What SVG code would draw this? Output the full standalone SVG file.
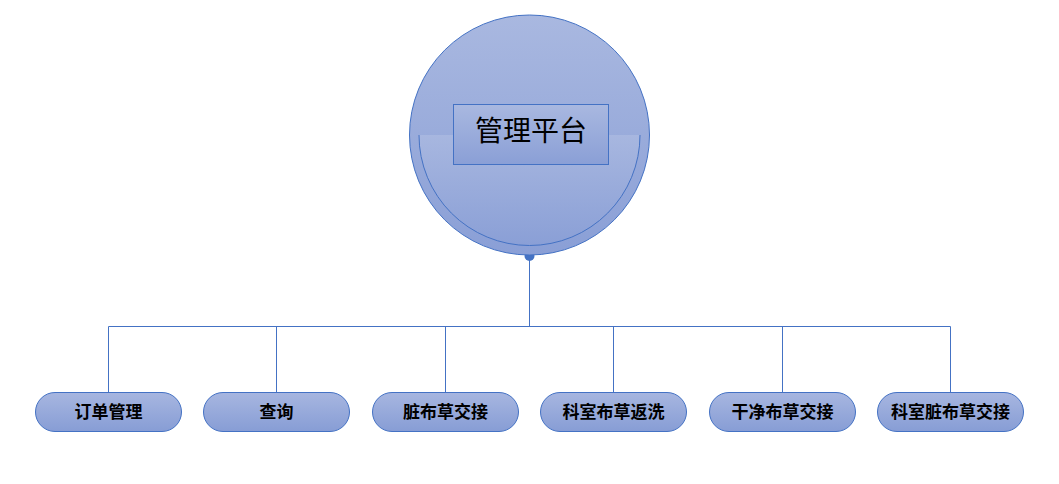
<svg xmlns="http://www.w3.org/2000/svg" width="1059" height="484" viewBox="0 0 1059 484">
<defs>
<linearGradient id="g" x1="0" y1="0" x2="0" y2="1"><stop offset="0" stop-color="#a9b8e0"/><stop offset="1" stop-color="#8a9fd6"/></linearGradient>
<linearGradient id="g2" x1="0" y1="0" x2="0" y2="1"><stop offset="0" stop-color="#a7b6e0"/><stop offset="1" stop-color="#879dd5"/></linearGradient>
<style>
.pill{fill:url(#g2);stroke:#4472c4;stroke-width:1}
.t{font-family:"Noto Sans CJK SC",sans-serif;font-size:17px;font-weight:bold;text-anchor:middle;fill:#000}
.c{stroke:#4472c4;stroke-width:1;fill:none}
</style>
</defs>
<rect width="1059" height="484" fill="#fff"/>
<g id="connectors">
<path class="c" d="M529.5 256V326.5M108.5 326.5H950.5M108.5 326.5V392M276.5 326.5V392M445.5 326.5V392M613.5 326.5V392M782.5 326.5V392M950.5 326.5V392"/>
<circle cx="529.5" cy="256" r="5" fill="#4472c4"/>
</g>
<g id="root">
<circle cx="529.5" cy="135" r="120" fill="url(#g)" stroke="#4472c4"/>
<path d="M419 135H640A110.5 110.5 0 0 1 419 135Z" fill="url(#g)" opacity="0.9"/>
<path class="c" d="M419 135A110.5 110.5 0 0 0 640 135"/>
<rect x="453.5" y="104.5" width="155" height="60" fill="url(#g)" stroke="#4472c4"/>
<text x="531" y="141" class="t" style="font-size:28px;font-weight:normal">管理平台</text>
</g>
<g id="n1"><rect class="pill" x="35.5" y="392.5" width="146" height="39" rx="19.5"/><text class="t" x="108.5" y="418">订单管理</text></g>
<g id="n2"><rect class="pill" x="203.5" y="392.5" width="146" height="39" rx="19.5"/><text class="t" x="276.5" y="418">查询</text></g>
<g id="n3"><rect class="pill" x="372.5" y="392.5" width="146" height="39" rx="19.5"/><text class="t" x="445.5" y="418">脏布草交接</text></g>
<g id="n4"><rect class="pill" x="540.5" y="392.5" width="146" height="39" rx="19.5"/><text class="t" x="613.5" y="418">科室布草返洗</text></g>
<g id="n5"><rect class="pill" x="709.5" y="392.5" width="146" height="39" rx="19.5"/><text class="t" x="782.5" y="418">干净布草交接</text></g>
<g id="n6"><rect class="pill" x="877.5" y="392.5" width="146" height="39" rx="19.5"/><text class="t" x="950.5" y="418">科室脏布草交接</text></g>
</svg>
